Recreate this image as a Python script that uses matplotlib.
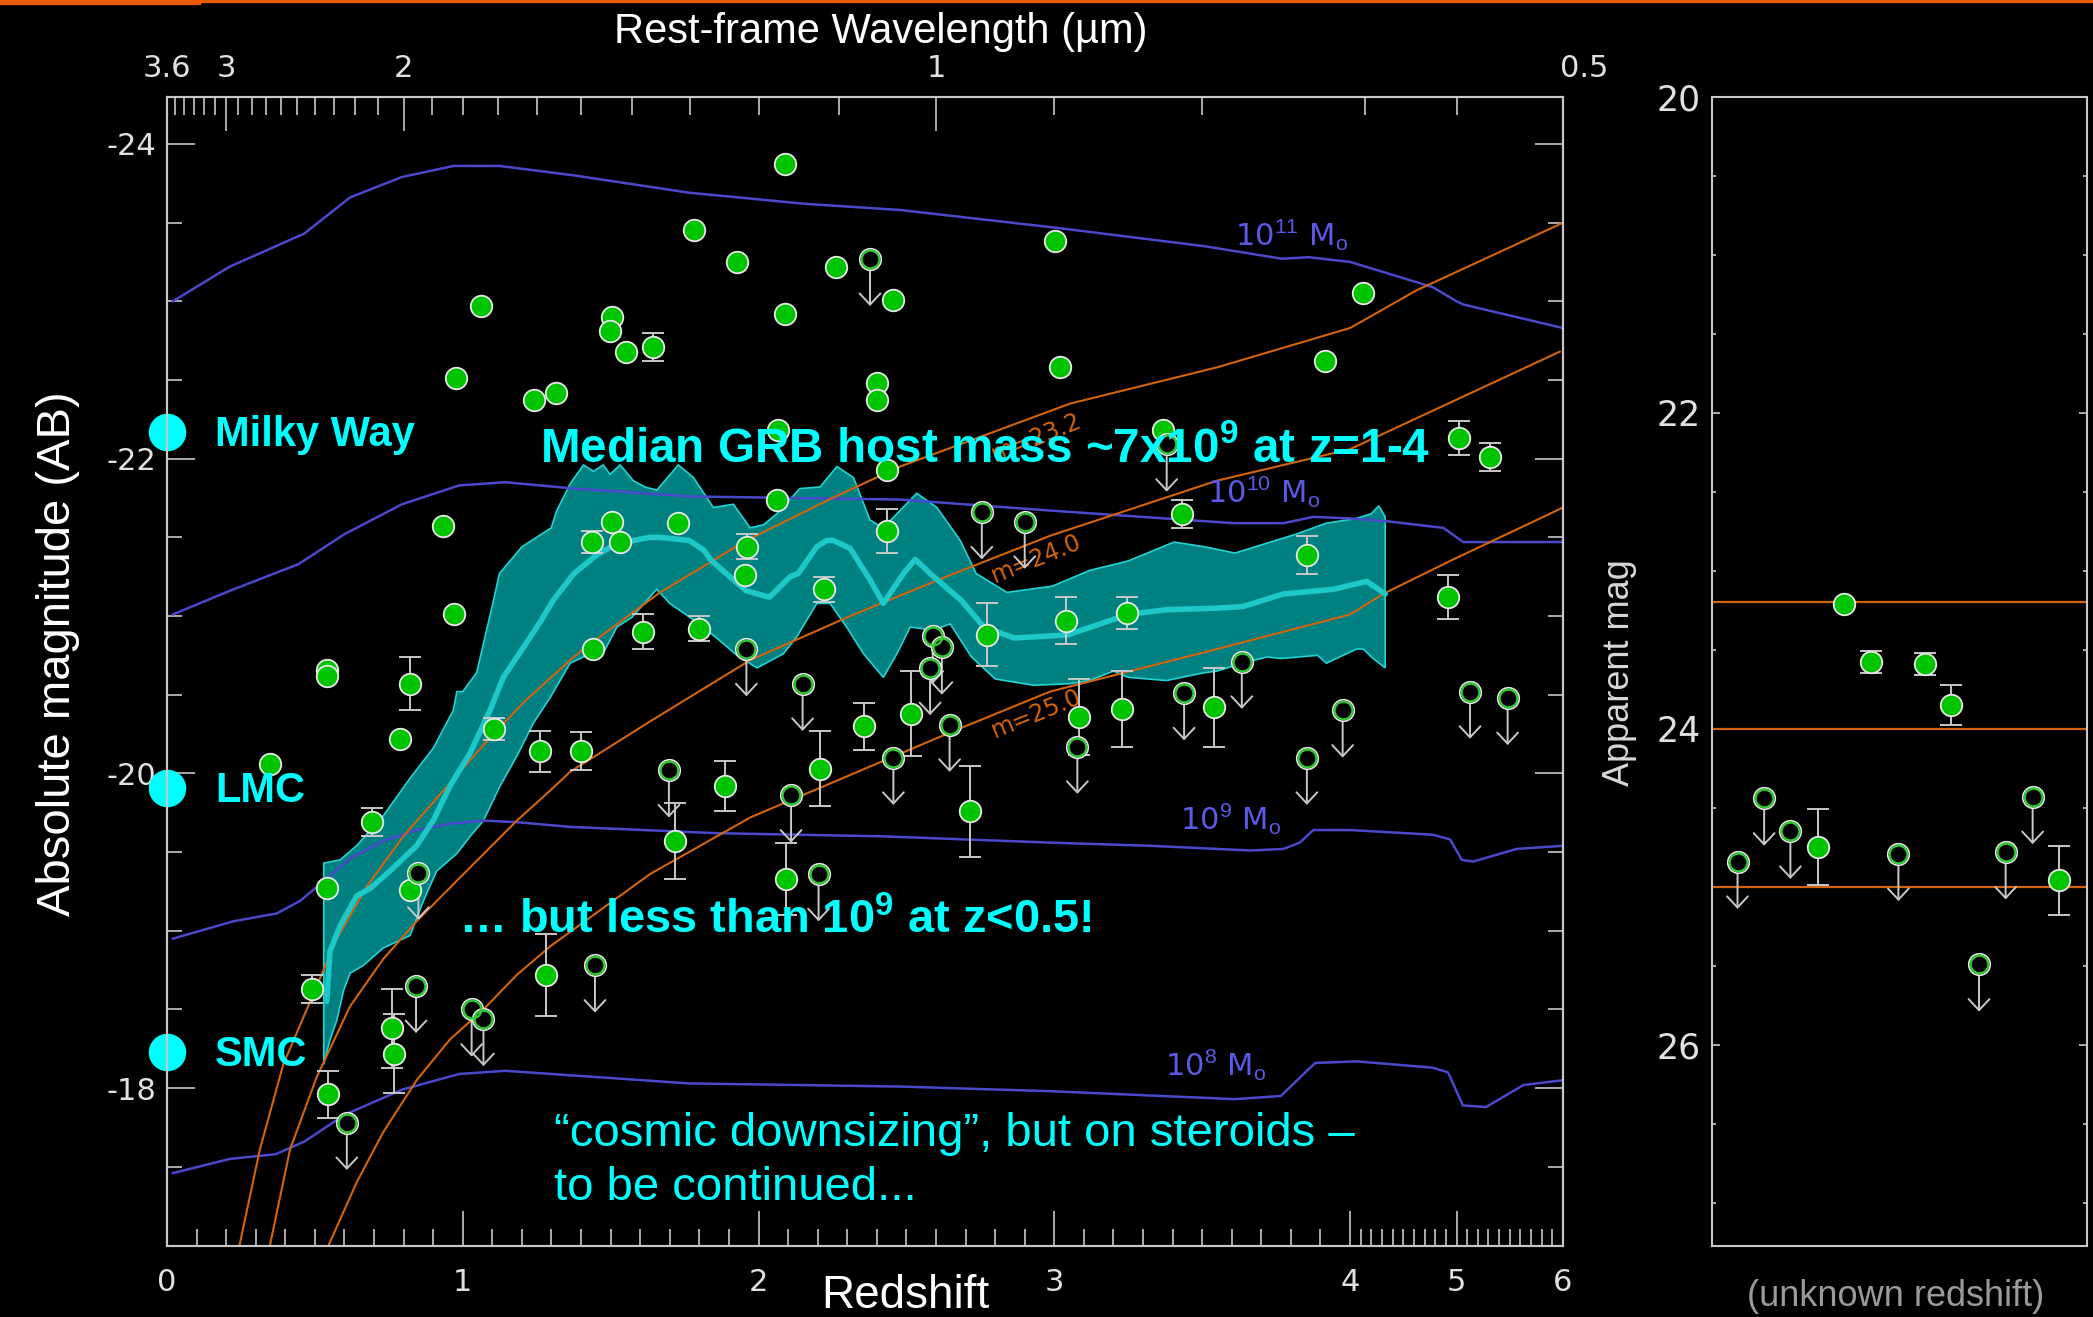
import numpy as np
import matplotlib.pyplot as plt
from matplotlib.patches import Rectangle

plt.rcParams['font.family'] = ['Liberation Sans', 'DejaVu Sans']
plt.rcParams['mathtext.fontset'] = 'custom'
plt.rcParams['mathtext.rm'] = 'Liberation Sans'
plt.rcParams['mathtext.bf'] = 'Liberation Sans:bold'
plt.rcParams['mathtext.it'] = 'Liberation Sans:italic'

# ---- model tracks: absolute mag vs redshift for fixed stellar mass ----
mass_labels = [r'10$^{11}$ M$_{\rm o}$', r'10$^{10}$ M$_{\rm o}$',
               r'10$^{9}$ M$_{\rm o}$', r'10$^{8}$ M$_{\rm o}$']
z_m11 = [0.02, 0.212, 0.464, 0.619, 0.795, 0.969, 1.124, 1.376, 1.765, 2.153, 2.479,
         2.993, 3.508, 3.77, 3.86, 4.0, 4.777, 5.0, 5.06, 6.0]
M_m11 = [-23.0, -23.22, -23.43, -23.66, -23.79, -23.86, -23.86, -23.80, -23.69, -23.62, -23.58,
         -23.47, -23.35, -23.27, -23.28, -23.25, -23.09, -23.0, -22.98, -22.83]
z_m10 = [0.02, 0.212, 0.445, 0.60, 0.794, 0.988, 1.144, 1.376, 1.765, 2.479, 2.986,
         3.606, 3.775, 3.876, 4.0, 4.376, 4.876, 5.064, 6.0]
M_m10 = [-21.01, -21.16, -21.33, -21.52, -21.71, -21.83, -21.85, -21.81, -21.76, -21.74, -21.67,
         -21.59, -21.59, -21.63, -21.62, -21.60, -21.56, -21.47, -21.47]
z_m9 = [0.02, 0.224, 0.371, 0.45, 0.54, 0.619, 0.731, 0.844, 0.957, 1.07, 1.183, 1.363, 1.859,
        2.42, 2.986, 3.324, 3.662, 3.775, 3.83, 3.876, 4.0, 4.78, 4.94, 5.05, 5.158, 5.565, 6.0]
M_m9 = [-18.95, -19.06, -19.11, -19.19, -19.33, -19.46, -19.57, -19.64, -19.68, -19.70, -19.69,
        -19.66, -19.62, -19.60, -19.56, -19.54, -19.51, -19.52, -19.56, -19.64, -19.64, -19.61,
        -19.58, -19.45, -19.44, -19.52, -19.54]
z_m8 = [0.02, 0.212, 0.367, 0.464, 0.60, 0.794, 0.988, 1.144, 1.376, 1.765, 2.479, 2.994, 3.61,
        3.766, 3.882, 4.06, 4.777, 4.92, 5.06, 5.277, 5.63, 6.0]
M_m8 = [-17.46, -17.55, -17.58, -17.66, -17.83, -17.99, -18.09, -18.11, -18.08, -18.03, -18.01,
        -17.98, -17.93, -17.95, -18.16, -18.17, -18.13, -18.10, -17.89, -17.88, -18.02, -18.05]
mass_label_pos = [(3.612, -23.35), (3.516, -21.72), (3.426, -19.64), (3.374, -18.08)]

# ---- fixed apparent-magnitude limits ----
app_mags = [23.2, 24.0, 25.0]
z_a232 = [0.245, 0.314, 0.393, 0.484, 0.574, 0.675, 0.799, 0.934, 1.07, 1.205, 1.363, 1.415,
          1.667, 1.959, 2.25, 2.479, 3.054, 3.55, 4.0, 4.626, 5.94, 6.0]
M_a232 = [-17.0, -17.61, -18.15, -18.55, -18.95, -19.28, -19.60, -19.89, -20.18, -20.45, -20.72,
          -20.80, -21.15, -21.48, -21.75, -21.95, -22.35, -22.58, -22.83, -23.07, -23.48, -23.50]
z_a240 = [0.348, 0.416, 0.506, 0.619, 0.731, 0.844, 1.013, 1.183, 1.295, 1.363, 1.633, 1.972,
          2.31, 2.648, 2.986, 3.55, 4.0, 5.97]
M_a240 = [-17.0, -17.61, -18.07, -18.52, -18.82, -19.06, -19.38, -19.70, -19.89, -20.01, -20.33,
          -20.72, -21.0, -21.26, -21.51, -21.86, -22.06, -22.68]
z_a250 = [0.546, 0.641, 0.731, 0.844, 0.957, 1.07, 1.183, 1.295, 1.633, 1.972, 2.31, 2.648,
          2.986, 3.55, 4.0, 4.31, 4.94, 5.94, 6.0]
M_a250 = [-17.0, -17.40, -17.72, -18.05, -18.31, -18.50, -18.72, -18.90, -19.36, -19.72, -19.99,
          -20.26, -20.52, -20.79, -21.01, -21.14, -21.35, -21.67, -21.69]
app_label_pos = [(2.94, -22.13), (2.94, -21.365), (2.94, -20.38)]

# ---- running median of host magnitudes and its spread ----
band_up_z = [0.53, 0.585, 0.641, 0.731, 0.822, 0.90, 0.968, 0.98, 1.0, 1.047, 1.104, 1.124, 1.20,
             1.299, 1.318, 1.363, 1.408, 1.442, 1.475, 1.498, 1.532, 1.577, 1.616, 1.656, 1.729,
             1.780, 1.847, 1.915, 1.972, 2.017, 2.062, 2.140, 2.208, 2.265, 2.321, 2.377, 2.422,
             2.468, 2.535, 2.603, 2.682, 2.736, 2.84, 2.994, 3.12, 3.25, 3.405, 3.508, 3.611,
             3.714, 3.817, 3.92, 4.06, 4.20, 4.27, 4.33]
band_up_M = [-19.43, -19.45, -19.54, -19.73, -19.97, -20.16, -20.40, -20.52, -20.52, -20.64, -21.10,
             -21.27, -21.44, -21.56, -21.67, -21.84, -21.96, -21.92, -21.96, -21.90, -21.96, -21.86,
             -21.82, -21.80, -21.96, -21.88, -21.69, -21.71, -21.56, -21.58, -21.65, -21.81, -21.82,
             -21.95, -21.88, -21.61, -21.56, -21.65, -21.78, -21.69, -21.48, -21.27, -21.15, -21.19,
             -21.29, -21.35, -21.47, -21.44, -21.40, -21.46, -21.52, -21.59, -21.62, -21.65, -21.70,
             -21.63]
band_lo_z = [0.53, 0.55, 0.574, 0.597, 0.619, 0.664, 0.731, 0.822, 0.867, 0.912, 0.98, 1.025, 1.07,
             1.126, 1.183, 1.239, 1.295, 1.363, 1.408, 1.474, 1.521, 1.571, 1.656, 1.70, 1.769,
             1.859, 1.927, 1.995, 2.084, 2.13, 2.197, 2.242, 2.298, 2.355, 2.422, 2.468, 2.513,
             2.592, 2.648, 2.72, 2.80, 2.93, 3.054, 3.12, 3.20, 3.25, 3.38, 3.508, 3.55, 3.637,
             3.72, 3.766, 3.89, 3.92, 4.06, 4.125, 4.20, 4.33]
band_lo_M = [-18.15, -18.30, -18.43, -18.62, -18.73, -18.78, -18.89, -18.97, -19.19, -19.38, -19.49,
             -19.60, -19.70, -19.92, -20.11, -20.32, -20.48, -20.70, -20.74, -20.76, -20.93, -20.99,
             -21.17, -21.08, -20.99, -20.86, -20.75, -20.67, -20.76, -20.87, -21.08, -21.08, -20.93,
             -20.76, -20.61, -20.76, -20.93, -20.91, -20.95, -20.74, -20.60, -20.56, -20.57, -20.59,
             -20.65, -20.61, -20.59, -20.64, -20.65, -20.70, -20.74, -20.73, -20.75, -20.70, -20.79,
             -20.79, -20.74, -20.67]
med_z = [0.54, 0.551, 0.585, 0.641, 0.687, 0.754, 0.844, 0.90, 0.957, 1.025, 1.092, 1.137, 1.205,
         1.261, 1.306, 1.376, 1.454, 1.521, 1.551, 1.633, 1.668, 1.765, 1.814, 1.842, 1.915, 1.959,
         2.037, 2.107, 2.134, 2.197, 2.231, 2.253, 2.31, 2.377, 2.422, 2.49, 2.53, 2.58, 2.685,
         2.762, 2.865, 3.045, 3.25, 3.38, 3.55, 3.637, 3.775, 3.944, 4.157, 4.33]
med_M = [-18.55, -18.87, -19.03, -19.22, -19.27, -19.38, -19.54, -19.70, -19.92, -20.13, -20.40,
         -20.61, -20.80, -20.96, -21.10, -21.27, -21.39, -21.46, -21.47, -21.50, -21.50, -21.48,
         -21.42, -21.35, -21.23, -21.16, -21.12, -21.25, -21.27, -21.44, -21.48, -21.48, -21.43,
         -21.23, -21.08, -21.27, -21.36, -21.27, -21.10, -20.93, -20.86, -20.88, -21.01, -21.04,
         -21.05, -21.06, -21.14, -21.17, -21.22, -21.14]

# ---- GRB hosts with redshift ----
det_z = [2.09, 1.783, 1.927, 2.262, 2.456, 2.09, 3.003, 4.125, 1.060, 1.504, 1.498, 1.552, 1.642,
         0.978, 1.241, 1.314, 3.02, 3.916, 2.40, 2.40, 2.067, 3.367, 5.027, 5.31, 2.435, 2.062,
         3.431, 0.934, 1.504, 1.729, 1.436, 1.532, 1.96, 2.434, 1.955, 3.856, 2.22, 4.92, 3.246,
         3.04, 0.972, 2.772, 1.61, 1.80, 1.44, 0.542, 0.542, 0.82, 2.515, 3.082, 3.228, 3.539,
         2.357, 1.105, 0.788, 1.26, 1.40, 0.348, 2.207, 1.885, 2.716, 0.693, 1.716, 2.093, 0.54,
         0.822, 1.28, 0.489, 0.76, 0.769, 0.543]
det_M = [-23.87, -23.45, -23.25, -23.22, -23.01, -22.92, -23.38, -23.05, -22.97, -22.90, -22.81,
         -22.68, -22.71, -22.51, -22.37, -22.42, -22.58, -22.62, -22.48, -22.37, -22.18, -22.18,
         -22.13, -22.01, -21.93, -21.74, -21.65, -21.57, -21.60, -21.59, -21.47, -21.47, -21.44,
         -21.54, -21.26, -21.39, -21.17, -21.12, -21.02, -20.97, -21.01, -20.88, -20.90, -20.92,
         -20.79, -20.66, -20.62, -20.57, -20.38, -20.36, -20.41, -20.42, -20.30, -20.28, -20.22,
         -20.14, -20.14, -20.06, -20.03, -19.92, -19.76, -19.69, -19.57, -19.33, -19.27, -19.26,
         -18.72, -18.63, -18.38, -18.22, -17.96]
det_err = [0, 0, 0, 0, 0, 0, 0, 0, 0, 0, 0, 0, 0.09, 0, 0, 0, 0, 0, 0, 0, 0, 0, 0.11, 0.09, 0, 0,
           0.09, 0, 0, 0, 0.07, 0, 0.08, 0.14, 0, 0.12, 0.08, 0.14, 0.10, 0.15, 0, 0.20, 0.11,
           0.08, 0, 0, 0, 0.17, 0.27, 0.24, 0.24, 0.25, 0.15, 0.07, 0, 0.13, 0.12, 0, 0.24, 0.16,
           0.29, 0.09, 0.24, 0.23, 0, 0, 0.26, 0.09, 0.25, 0.25, 0.15]
lim_z = [2.377, 3.38, 2.755, 2.90, 1.959, 2.149, 2.589, 2.62, 2.58, 3.634, 3.439, 5.127, 5.48,
         3.975, 2.646, 3.078, 2.456, 3.854, 1.697, 2.11, 0.85, 2.203, 1.447, 0.842, 1.03, 1.07,
         0.608]
lim_M = [-23.27, -22.09, -21.66, -21.60, -20.79, -20.57, -20.87, -20.80, -20.67, -20.71, -20.51,
         -20.52, -20.48, -20.40, -20.31, -20.17, -20.10, -20.10, -20.02, -19.86, -19.37, -19.36,
         -18.78, -18.65, -18.50, -18.44, -17.78]

# ---- hosts without redshift (apparent mag) ----
unk_det_x = [0.353, 0.423, 0.568, 0.638, 0.283, 0.926]
unk_det_m = [23.21, 23.58, 23.59, 23.85, 24.75, 24.96]
unk_det_err = [0, 0.07, 0.07, 0.125, 0.24, 0.22]
unk_lim_x = [0.068, 0.139, 0.209, 0.497, 0.712, 0.783, 0.855]
unk_lim_m = [24.84, 24.44, 24.65, 24.79, 25.49, 24.78, 24.43]

# reference galaxies
ref_names = ['Milky Way', 'LMC', 'SMC']
ref_M = [-22.17, -19.91, -18.23]

GREEN = '#00c400'
GREY = '#c8c8c8'
BLUE = '#4b48cc'
ORANGE = '#d4640c'
CYAN = '#00ffff'
ARROW = 0.3   # length of upper-limit arrows, mag

K = 0.36  # compression of the redshift axis above z=4


def fwd(z):
    z = np.asarray(z, dtype=float)
    return np.where(z <= 4, z, 4 + (z - 4) * K)


def inv(u):
    u = np.asarray(u, dtype=float)
    return np.where(u <= 4, u, 4 + (u - 4) / K)


def detections(ax, x, m, err):
    x, m, err = np.asarray(x), np.asarray(m), np.asarray(err)
    has = err > 0
    ax.errorbar(x[has], m[has], yerr=err[has], fmt='none', ecolor=GREY, elinewidth=1.4,
                capsize=8, capthick=1.4, zorder=5)
    ax.plot(x, m, 'o', ls='none', ms=15.5, mfc=GREEN, mec='#e8e8e8', mew=1.3, zorder=6)


def upper_limits(ax, x, m):
    for xi, mi in zip(x, m):
        ax.annotate('', xy=(xi, mi + ARROW), xytext=(xi, mi), zorder=5,
                    arrowprops=dict(arrowstyle='->,head_width=0.75,head_length=0.8',
                                    color=GREY, lw=1.4, shrinkA=0, shrinkB=0,
                                    mutation_scale=10))
    ax.plot(x, m, 'o', ls='none', ms=15.5, mfc='black', mec='#e8e8e8', mew=1.2, zorder=6)
    ax.plot(x, m, 'o', ls='none', ms=12.8, mfc='none', mec='#30d030', mew=1.6, zorder=7)


fig = plt.figure(figsize=(20.93, 13.17), dpi=100, facecolor='black')
ax = fig.add_axes([0.07979, 0.05429, 0.66698, 0.87229], facecolor='black')
axr = fig.add_axes([0.81797, 0.05429, 0.17917, 0.87229], facecolor='black')

ax.set_xscale('function', functions=(fwd, inv))
ax.set_xlim(0, 6)
ax.set_ylim(-17.0, -24.3)

# median band
ax.fill(np.concatenate([band_up_z, band_lo_z[::-1]]),
        np.concatenate([band_up_M, band_lo_M[::-1]]),
        facecolor='#008080', edgecolor='#22d4d4', lw=1.2, zorder=1)

for zz, mm in [(z_m11, M_m11), (z_m10, M_m10), (z_m9, M_m9), (z_m8, M_m8)]:
    ax.plot(zz, mm, color=BLUE, lw=1.8, zorder=2)
for zz, mm in [(z_a232, M_a232), (z_a240, M_a240), (z_a250, M_a250)]:
    ax.plot(zz, mm, color=ORANGE, lw=1.5, zorder=2)

ax.plot(med_z, med_M, color='#1cc8c8', lw=4, solid_capstyle='round', zorder=3)

for lab, (zx, mx) in zip(mass_labels, mass_label_pos):
    ax.text(zx, mx, lab, color='#5a5ae6', fontsize=22, family='DejaVu Sans',
            ha='left', va='baseline', zorder=4)
for mag, (zx, mx) in zip(app_mags, app_label_pos):
    ax.text(zx, mx, f'm={mag:.1f}', color=ORANGE, fontsize=17, family='DejaVu Sans',
            rotation=22, ha='center', va='center', rotation_mode='anchor', zorder=4)

detections(ax, det_z, det_M, det_err)
upper_limits(ax, lim_z, lim_M)

# reference galaxies on the z=0 axis
ax.plot(np.zeros(len(ref_M)), ref_M, 'o', ls='none', ms=26, color=CYAN, clip_on=False, zorder=8)
for name, mref in zip(ref_names, ref_M):
    ax.text(0.163, mref + 0.09, name, color=CYAN, fontsize=30, fontweight='bold',
            ha='left', va='baseline', zorder=9)

ax.text(1.26, -21.98, r'Median GRB host mass ~7x10$^{\mathbf{9}}$ at z=1-4', color=CYAN,
        fontsize=34.3, fontweight='bold', ha='left', va='baseline', zorder=10)
ax.text(0.988, -18.986, r'… but less than 10$^{\mathbf{9}}$ at z<0.5!', color=CYAN,
        fontsize=33.8, fontweight='bold', ha='left', va='baseline', zorder=10)
ax.text(1.309, -17.63, '“cosmic downsizing”, but on steroids –', color=CYAN,
        fontsize=34, ha='left', va='baseline', zorder=10)
ax.text(1.309, -17.29, 'to be continued...', color=CYAN,
        fontsize=34, ha='left', va='baseline', zorder=10)

# axes styling
for a in (ax, axr):
    for s in a.spines.values():
        s.set_color(GREY)
        s.set_linewidth(1.5)

ax.set_xticks(range(7))
ax.set_xticklabels([str(i) for i in range(7)])
ax.set_xticks(np.arange(0, 6.001, 0.1), minor=True)
ax.set_yticks([-24, -22, -20, -18])
ax.set_yticklabels(['-24', '-22', '-20', '-18'])
ax.set_yticks(np.arange(-24.0, -16.99, 0.5), minor=True)
ax.tick_params(axis='x', which='major', direction='in', length=25, width=1.2, color=GREY,
               labelcolor='#e0e0e0', labelsize=22, pad=16, labelfontfamily='DejaVu Sans')
ax.tick_params(axis='x', which='minor', direction='in', length=12, width=1.2, color=GREY)
ax.tick_params(axis='y', which='major', direction='in', length=20, width=1.2, color=GREY,
               labelcolor='#e0e0e0', labelsize=22, pad=8, right=True,
               labelfontfamily='DejaVu Sans')
ax.tick_params(axis='y', which='minor', direction='in', length=11, width=1.2, color=GREY,
               right=True)

# rest-frame wavelength of observed 3.6 micron along the top
axt = ax.twiny()
axt.set_xscale('function', functions=(fwd, inv))
axt.set_xlim(0, 6)
lam_major = [3.6, 3, 2, 1]
lam_minor = [l for l in np.round(np.arange(0.6, 3.55, 0.1), 1) if l not in lam_major]
axt.set_xticks([3.6 / l - 1 for l in lam_major])
axt.set_xticklabels([f'{l:g}' for l in lam_major])
axt.set_xticks([3.6 / l - 1 for l in lam_minor], minor=True)
axt.tick_params(axis='x', which='major', direction='in', length=24.5, width=1.2, color=GREY,
                labelcolor='#e0e0e0', labelsize=22, pad=10, labelfontfamily='DejaVu Sans')
axt.tick_params(axis='x', which='minor', direction='in', length=13, width=1.2, color=GREY)
for s in axt.spines.values():
    s.set_color(GREY)
    s.set_linewidth(1.5)
axt.annotate('0.5', xy=(3.6 / 0.5 - 1, 1), xycoords=('data', 'axes fraction'),
             xytext=(0, 10), textcoords='offset points', ha='center', va='bottom',
             color='#e0e0e0', fontsize=22, family='DejaVu Sans', annotation_clip=False)

fig.text(0.4209, 0.9672, 'Rest-frame Wavelength (µm)', color='white', fontsize=30,
         ha='center', va='baseline')
fig.text(0.0277, 0.5034, 'Absolute magnitude (AB)', color='white', fontsize=34,
         rotation=90, ha='center', va='center')
fig.text(0.4324, 0.0068, 'Redshift', color='white', fontsize=33, ha='center', va='baseline')

# right panel: hosts of unknown redshift
axr.set_xlim(0, 1)
axr.set_ylim(27.27, 20.0)
for mag in app_mags:
    axr.axhline(mag, color=ORANGE, lw=1.6, zorder=2)
detections(axr, unk_det_x, unk_det_m, unk_det_err)
upper_limits(axr, unk_lim_x, unk_lim_m)
axr.set_xticks([])
axr.set_yticks([20, 22, 24, 26])
axr.set_yticks(np.arange(20, 27.3, 0.5), minor=True)
axr.tick_params(axis='y', which='major', direction='in', length=5.5, width=1.2, color=GREY,
                labelcolor='#e0e0e0', labelsize=25, pad=8, right=True,
                labelfontfamily='DejaVu Sans')
axr.tick_params(axis='y', which='minor', direction='in', length=3, width=1.2, color=GREY,
                right=True)
fig.text(0.7736, 0.4894, 'Apparent mag', color='#d8d8d8', fontsize=26, rotation=90,
         ha='center', va='center')
fig.text(0.9059, 0.0084, '(unknown redshift)', color='#9a9a9a', fontsize=26,
         ha='center', va='baseline')

# slide rule across the top edge
fig.patches.append(Rectangle((0, 1 - 2 / 1317), 1, 2 / 1317, transform=fig.transFigure,
                             color='#e85a00', zorder=0))
fig.patches.append(Rectangle((0, 1 - 4 / 1317), 200 / 2093, 4 / 1317, transform=fig.transFigure,
                             color='#e85a00', zorder=0))

fig.savefig('out.png', dpi=100, facecolor='black')
